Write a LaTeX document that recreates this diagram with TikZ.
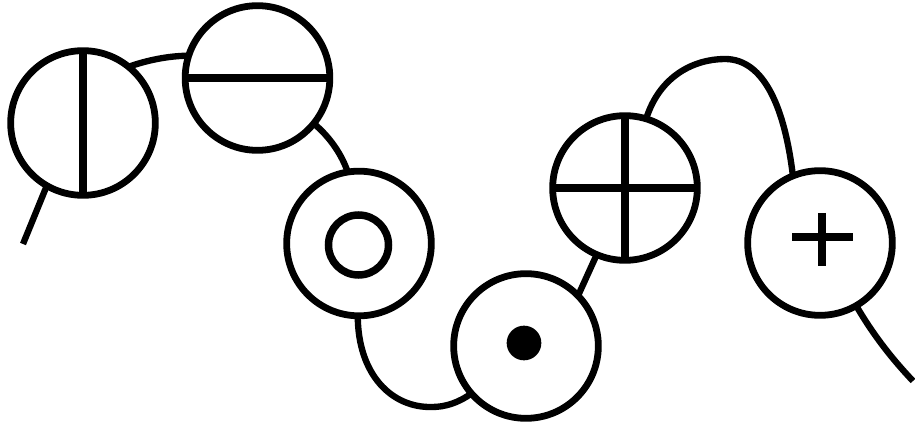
\documentclass[tikz,border=0pt]{standalone}
\usepackage{tikz}
\usetikzlibrary{calc}
\tikzset{
  gate/.style={circle, draw=black, fill=white, line width=5.8pt, minimum size=4.34cm, inner sep=0pt, outer sep=0pt},
  wire/.style={line width=5.4pt},
  bar/.style={line width=6.6pt}
}
\begin{document}
\begin{tikzpicture}[x=0.03cm,y=-0.03cm]
  \useasboundingbox (0,0) rectangle (915,425);
  \coordinate (wirein) at (23,244);
  \coordinate (wireout) at (913,381);
  \node[gate] (vert) at (83,123) {};
  \node[gate] (horiz) at (257.5,78) {};
  \node[gate] (ring) at (359,243.5) {};
  \node[gate] (dot) at (526,346) {};
  \node[gate] (cross) at (625,188) {};
  \node[gate] (plus) at (820,243) {};
  \draw[wire] (wirein) -- (vert.240);
  \draw[wire] (vert.51) .. controls (148,60) and (168,56) .. (horiz.162);
  \draw[wire] (horiz.-39) .. controls (330,137) and (342,155) .. (ring.99);
  \draw[wire] (ring.-91) .. controls (358,375) and (392,408) .. (432,407) .. controls (445,407) and (458,403) .. (dot.221);
  \draw[wire] (dot.44) -- (cross.247);
  \draw[wire] (cross.73) .. controls (660,75) and (695,59) .. (725,59) .. controls (765,59) and (785,110) .. (plus.112);
  \draw[wire] (plus.-60) .. controls (875,338) and (895,362) .. (wireout);
  % symbols inside the circles
  \draw[bar] (vert.north) -- (vert.south);
  \draw[bar] (horiz.west) -- (horiz.east);
  \draw[bar] (cross.north) -- (cross.south);
  \draw[bar] (cross.west) -- (cross.east);
  \node[circle, draw=black, line width=6.4pt, minimum size=1.8cm, inner sep=0pt] (hole) at (358.5,245) {};
  \node[circle, fill=black, minimum size=1.04cm, inner sep=0pt] (spot) at (524,343) {};
  \coordinate (plusw) at (792,237);
  \coordinate (pluse) at (853,237);
  \coordinate (plusn) at (822,213);
  \coordinate (pluss) at (822,266);
  \draw[bar] (plusw) -- (pluse);
  \draw[bar] (plusn) -- (pluss);
\end{tikzpicture}
\end{document}
